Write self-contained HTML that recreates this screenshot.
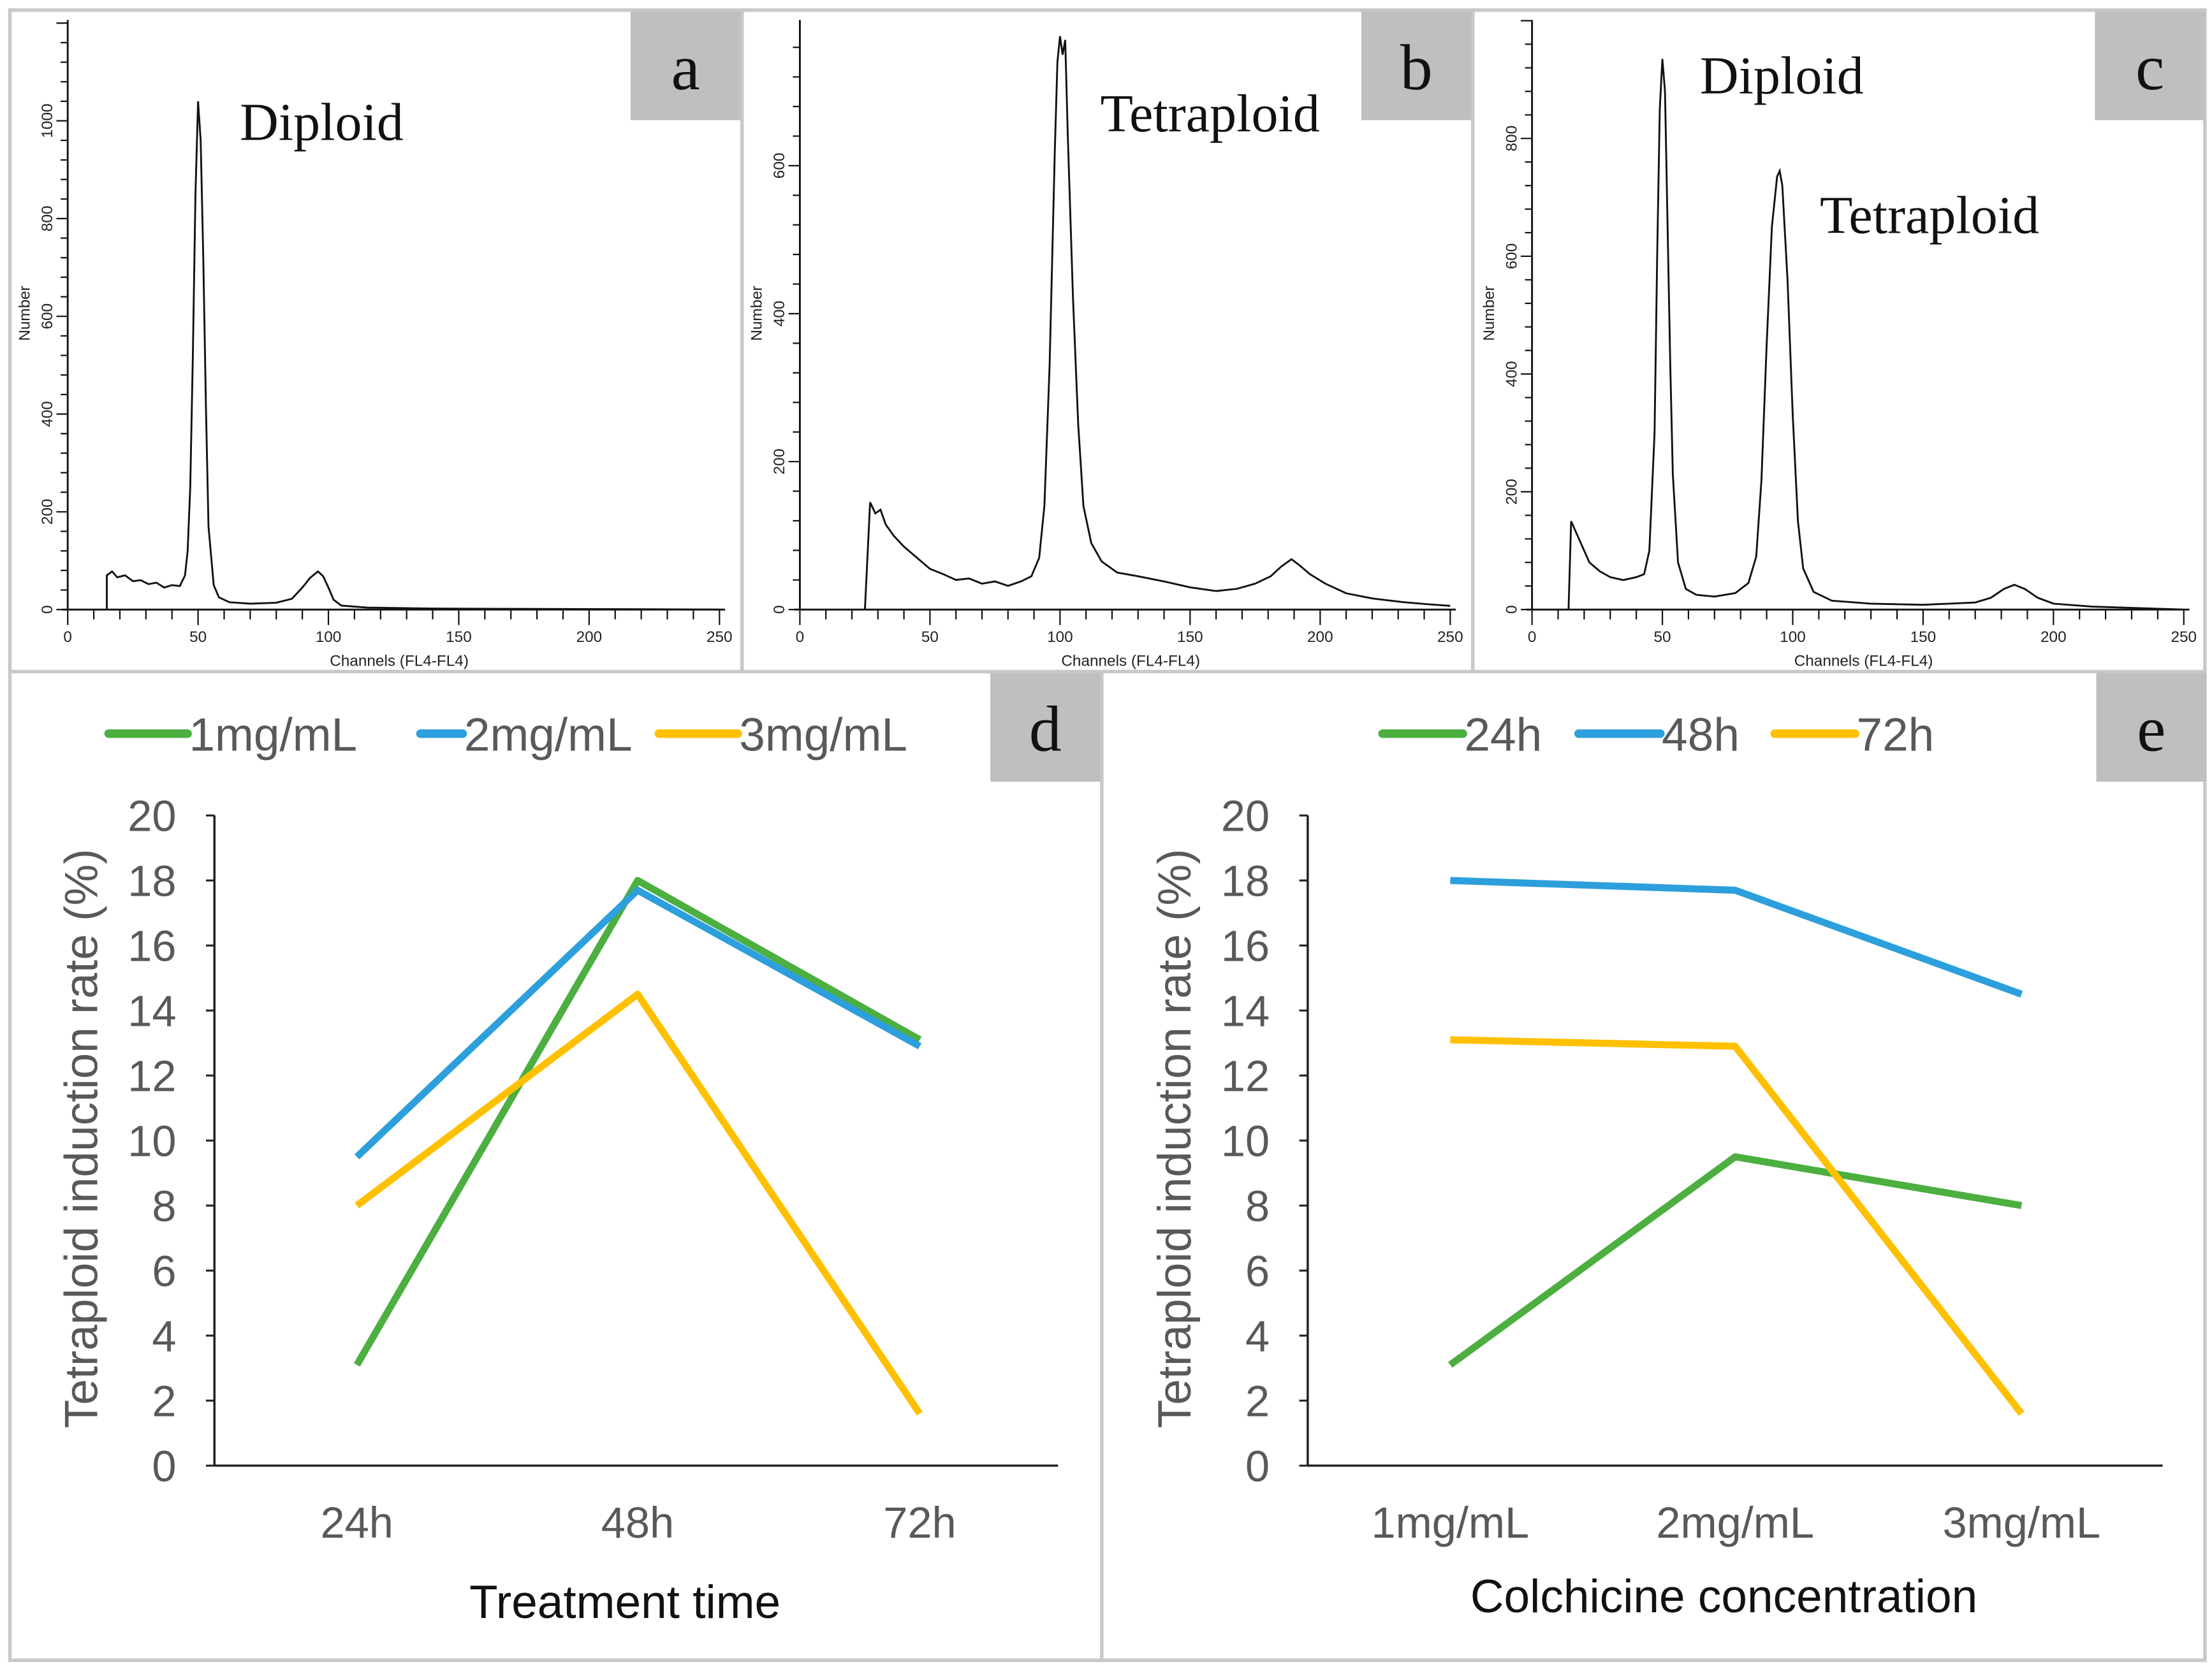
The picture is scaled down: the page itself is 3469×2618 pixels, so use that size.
<!DOCTYPE html>
<html><head><meta charset="utf-8"><style>
html,body{margin:0;padding:0;background:#fff}
svg{display:block}
.tk{font-family:"Liberation Sans",sans-serif;font-size:11px;fill:#222}
.serif{font-family:"Liberation Serif",serif;fill:#111}
.lab{font-family:"Liberation Sans",sans-serif;fill:#595959}
</style></head><body>
<svg id="fig" width="3469" height="2618" viewBox="0 0 1568 1183" xmlns="http://www.w3.org/2000/svg">
<rect x="0" y="0" width="1568" height="1183" fill="#fff"/>
<g id="frames" fill="none" stroke="#c8c8c8" stroke-width="2.5">
<rect x="7" y="7" width="1556" height="1170"/>
<line x1="526" y1="7" x2="526" y2="476"/>
<line x1="1044" y1="7" x2="1044" y2="476"/>
<line x1="7" y1="476" x2="1563" y2="476"/>
<line x1="781" y1="476" x2="781" y2="1177"/>
</g>
<g id="hist"></g>
<g id="lines"></g>
</svg>
<script>
// ---------- histogram data (channel, count) ----------
const histA = [[15,0],[15,70],[17,78],[19,66],[22,70],[25,58],[28,60],[31,52],[34,55],[37,45],[40,50],[43,48],[45,70],[46,120],[47,250],[48,520],[49,850],[50,1040],[51,960],[52,720],[53,420],[54,170],[56,50],[58,25],[62,15],[70,12],[80,14],[86,22],[90,45],[93,65],[96,78],[98,68],[100,45],[102,20],[105,8],[115,4],[140,2],[250,0]];
const histB = [[25,0],[27,145],[29,130],[31,135],[33,115],[36,100],[40,85],[45,70],[50,55],[55,48],[60,40],[65,42],[70,35],[75,38],[80,32],[85,38],[89,45],[92,70],[94,140],[96,330],[98,620],[99,740],[100,775],[101,750],[102,770],[103,640],[105,420],[107,250],[109,140],[112,90],[116,65],[122,50],[130,45],[140,38],[150,30],[160,25],[168,28],[175,35],[181,45],[185,58],[189,68],[192,60],[196,48],[202,35],[210,22],[220,15],[232,10],[242,7],[250,5]];
const histC = [[14,0],[15,150],[17,130],[19,110],[22,80],[26,65],[30,55],[35,50],[40,55],[43,60],[45,100],[47,300],[48,600],[49,850],[50,935],[51,880],[52,650],[53,420],[54,230],[56,80],[59,35],[63,25],[70,22],[78,28],[83,45],[86,90],[88,220],[90,450],[92,650],[94,735],[95,745],[96,720],[98,560],[100,330],[102,150],[104,70],[108,30],[115,15],[130,10],[150,8],[170,12],[176,20],[181,35],[185,42],[189,35],[194,20],[200,10],[215,5],[250,0]];
const xTicksHist = [0,50,100,150,200,250];
const yTicksA = [0,200,400,600,800,1000];
const yTicksB = [0,200,400,600];
const yTicksC = [0,200,400,600,800];

// ---------- line chart data ----------
const timeCats = ["24h","48h","72h"];
const concCats = ["1mg/mL","2mg/mL","3mg/mL"];
const d1mg = [3.1,18.0,13.1];
const d2mg = [9.5,17.7,12.9];
const d3mg = [8.0,14.5,1.6];
const e24h = [3.1,9.5,8.0];
const e48h = [18.0,17.7,14.5];
const e72h = [13.1,12.9,1.6];
const yTicksLine = [0,2,4,6,8,10,12,14,16,18,20];

const NS="http://www.w3.org/2000/svg";
function mk(tag,attrs,parent,text){const e=document.createElementNS(NS,tag);for(const k in attrs)e.setAttribute(k,attrs[k]);if(text!==undefined)e.textContent=text;parent.appendChild(e);return e;}

const H=document.getElementById('hist');
function histPanel(id,data,yTicks,x0,x1,y0,yPerUnit,letterX,labels){
  const g=mk('g',{},H);
  
  
  const sx=c=>x0+(x1-x0)*c/250, sy=v=>y0-v*yPerUnit;
  const ax=mk('line',{x1:x0-4,y1:y0,x2:x1+4,y2:y0,stroke:'#111','stroke-width':1.3},g);
  
  const ay=mk('line',{x1:x0,y1:y0,x2:x0,y2:14,stroke:'#111','stroke-width':1.3},g);
  
  for(let c=0;c<=250;c+=10){mk('line',{x1:sx(c),y1:y0,x2:sx(c),y2:y0+(c%50===0?11:7),stroke:'#111','stroke-width':1},g);}
  xTicksHist.forEach(c=>{const t=mk('text',{x:sx(c),y:y0+23,'text-anchor':'middle',class:'tk'},g,String(c));});
  const step=yTicks[1]-yTicks[0];const top=(y0-14)/yPerUnit;
  for(let v=0;v<=top;v+=step/5){const maj=Math.abs(v/step-Math.round(v/step))<1e-6;mk('line',{x1:x0-(maj?8:5),y1:sy(v),x2:x0,y2:sy(v),stroke:'#111','stroke-width':1},g);}
  yTicks.forEach(v=>{const t=mk('text',{x:0,y:0,'text-anchor':'middle',class:'tk',transform:`translate(${x0-11},${sy(v)}) rotate(-90)`},g,String(v));});
  const yt=mk('text',{x:0,y:0,'text-anchor':'middle',class:'tk','font-size':13,transform:`translate(${x0-27},222) rotate(-90)`},g,'Number');
  
  const xt=mk('text',{x:(x0+x1)/2+4,y:472,'text-anchor':'middle',class:'tk','font-size':14},g,'Channels (FL4-FL4)');
  
  const p=mk('polyline',{points:data.map(d=>sx(d[0])+','+sy(d[1])).join(' '),fill:'none',stroke:'#111','stroke-width':1.3},g);
  
  labels.forEach(l=>{const t=mk('text',{x:l[1],y:l[2],class:'serif','font-size':38},g,l[0]);});
  const b=mk('rect',{x:letterX,y:8,width:78,height:77,fill:'#bfbfbf'},g);
  
  const lt=mk('text',{x:letterX+39,y:63,'text-anchor':'middle',class:'serif','font-size':46},g,id);
  
}
histPanel('a',histA,yTicksA,48,510,432,0.3465,447,[['Diploid',170,99]]);
histPanel('b',histB,yTicksB,567,1028,432,0.5245,965,[['Tetraploid',780,93]]);
histPanel('c',histC,yTicksC,1086,1548,432,0.4175,1485,[['Diploid',1205,66],['Tetraploid',1290,165]]);

const L=document.getElementById('lines');
const colors=['#4caf3f','#2d9fdc','#ffc000'];
function linePanel(id,cats,series,names,axX0,axX1,catXs,xTitle,xTitleX,xTitleY,legend,letterX){
  const g=mk('g',{},L);
  
  
  const y0=1039,yPer=(1039-578)/20;const sy=v=>y0-v*yPer;
  const ay=mk('line',{x1:axX0,y1:578,x2:axX0,y2:y0,stroke:'#222','stroke-width':1.6},g);
  
  const ax=mk('line',{x1:axX0,y1:y0,x2:axX1,y2:y0,stroke:'#222','stroke-width':1.6},g);
  
  yTicksLine.forEach(v=>{mk('line',{x1:axX0-6,y1:sy(v),x2:axX0,y2:sy(v),stroke:'#222','stroke-width':1.4},g);
    const t=mk('text',{x:axX0-27,y:sy(v)+11,'text-anchor':'end',class:'lab','font-size':31},g,String(v));});
  cats.forEach((c,i)=>{const t=mk('text',{x:catXs[i],y:1090,'text-anchor':'middle',class:'lab','font-size':31},g,c);});
  const yt=mk('text',{x:0,y:0,'text-anchor':'middle',class:'lab','font-size':33,transform:`translate(${axX0-83},807) rotate(-90)`},g,'Tetraploid induction rate (%)');
  
  const xt=mk('text',{x:xTitleX,y:xTitleY,'text-anchor':'middle','font-family':'Liberation Sans, sans-serif','font-size':33,fill:'#111'},g,xTitle);
  
  series.forEach((s,k)=>{const p=mk('polyline',{points:s.map((v,i)=>catXs[i]+','+sy(v)).join(' '),fill:'none',stroke:colors[k],'stroke-width':5,'stroke-linejoin':'round'},g);
    });
  legend.forEach((lg,k)=>{const lgG=mk('g',{},g);
    mk('line',{x1:lg[0],y1:520,x2:lg[1],y2:520,stroke:colors[k],'stroke-width':6,'stroke-linecap':'round'},lgG);
    mk('text',{x:lg[1]+1,y:532,class:'lab','font-size':33,fill:'#595959'},lgG,names[k]);});
  const b=mk('rect',{x:letterX,y:477,width:78,height:77,fill:'#bfbfbf'},g);
  
  const lt=mk('text',{x:letterX+39,y:532,'text-anchor':'middle',class:'serif','font-size':46},g,id);
  
}
linePanel('d',timeCats,[d1mg,d2mg,d3mg],['1mg/mL','2mg/mL','3mg/mL'],152,750,[253,452,652],'Treatment time',443,1147,[[77,133],[298,328],[467,523]],702);
linePanel('e',concCats,[e24h,e48h,e72h],['24h','48h','72h'],927,1533,[1028,1230,1433],'Colchicine concentration',1222,1143,[[980,1037],[1119,1177],[1258,1315]],1486);
</script>
</body></html>
